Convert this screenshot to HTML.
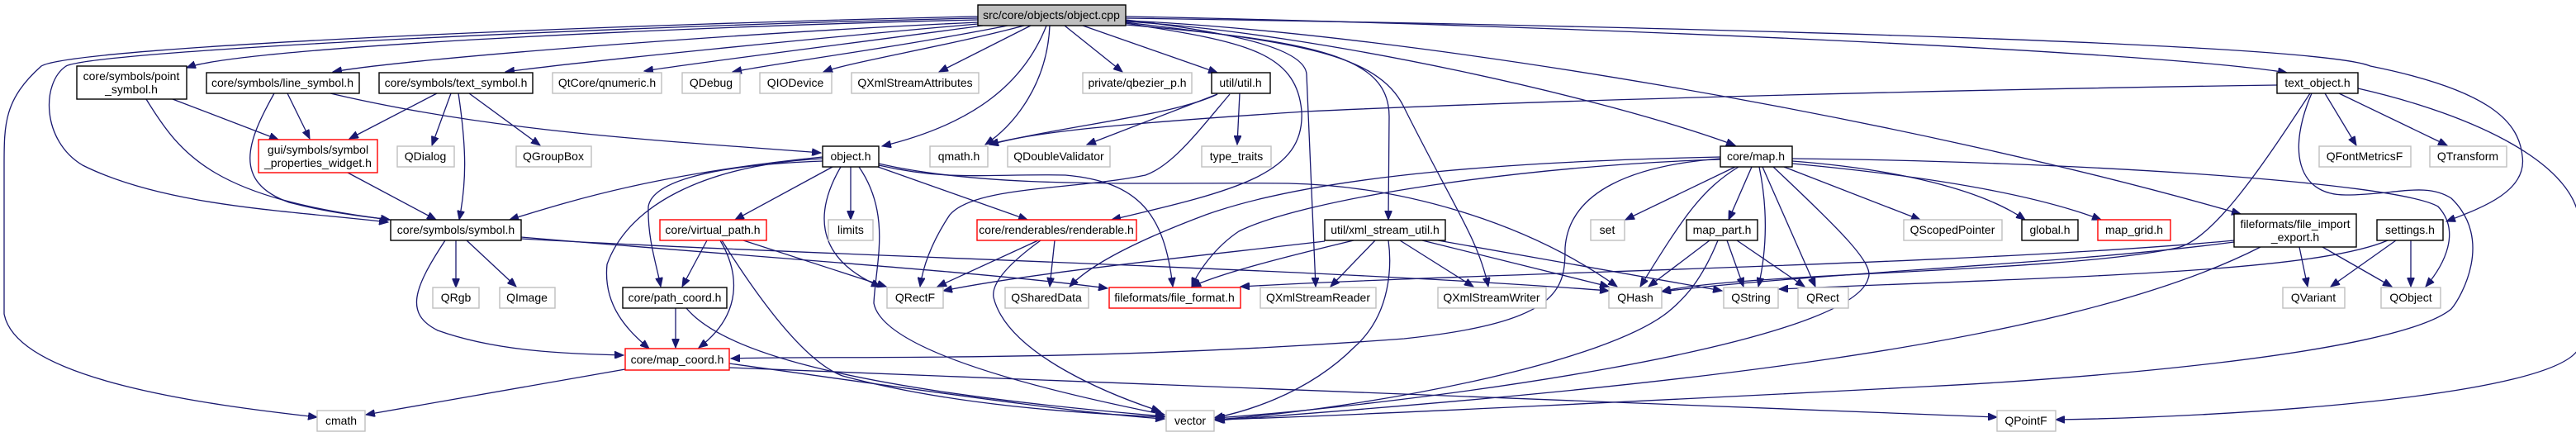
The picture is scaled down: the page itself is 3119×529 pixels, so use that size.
<!DOCTYPE html>
<html><head><meta charset="utf-8"><style>
html,body{margin:0;padding:0;background:#fff;}
svg{display:block;}
text{font-family:"Liberation Sans",Arial,sans-serif;font-size:14px;fill:#000;text-anchor:middle;}
.e{fill:none;stroke:#191970;stroke-width:1.3;marker-end:url(#a);}
.b{fill:#fff;stroke:#000;stroke-width:1.4;}
.g{fill:#fff;stroke:#bfbfbf;stroke-width:1.4;}
.r{fill:#fff;stroke:#ff0000;stroke-width:1.4;}
</style></head><body>
<svg width="3119" height="529" viewBox="0 0 3119 529" xmlns="http://www.w3.org/2000/svg">
<defs><marker id="a" markerUnits="userSpaceOnUse" markerWidth="12" markerHeight="9" refX="11" refY="4.5" orient="auto"><path d="M0,0 L11,4.5 L0,9 z" fill="#191970" stroke="#191970"/></marker></defs>

<!-- edges from object.cpp -->
<path class="e" d="M1184,24 C900,30 300,55 226,82"/>
<path class="e" d="M1184,27 C900,40 500,70 403,87"/>
<path class="e" d="M1184,29 C1000,45 700,75 612,87"/>
<path class="e" d="M1190,31 C1050,50 850,75 780,86"/>
<path class="e" d="M1220,31 C1100,55 950,75 887,87"/>
<path class="e" d="M1240,31 C1150,55 1030,75 997,87"/>
<path class="e" d="M1248,31 L1137,87"/>
<path class="e" d="M1267,31 C1240,100 1180,150 1068,177"/>
<path class="e" d="M1271,31 C1268,100 1230,150 1193,175"/>
<path class="e" d="M1289,31 L1359,87"/>
<path class="e" d="M1311,31 L1474,88"/>
<path class="e" d="M1363,28 C1500,50 1570,60 1576,135 C1580,210 1500,230 1346,266"/>
<path class="e" d="M1184,22 C800,30 120,60 80,80 C50,100 50,170 100,200 C200,250 350,255 470,269"/>
<path class="e" d="M1184,20 C800,28 90,55 50,80 C5,120 5,150 5,200 L5,380 C20,460 250,490 384,505"/>
<path class="e" d="M1363,26 C1600,40 1950,120 2101,176"/>
<path class="e" d="M1363,30 C1600,50 1682,70 1682,141 L1681,266"/>
<path class="e" d="M1363,24 C1500,40 1580,60 1582,90 L1593,347"/>
<path class="e" d="M1363,27 C1550,50 1667,60 1700,130 C1760,250 1790,290 1802,347"/>
<path class="e" d="M1363,20 C1800,28 2600,60 2769,88"/>
<path class="e" d="M1363,22 C1900,30 2800,50 2870,80 C3020,110 3050,150 3054,189 C3060,230 3010,250 2962,268"/>
<path class="e" d="M1363,25 C1700,40 2300,140 2713,259"/>

<!-- line_symbol -->
<path class="e" d="M348,113 L375,168"/>
<path class="e" d="M332,113 C300,170 280,220 350,245 C400,258 440,262 472,266"/>
<path class="e" d="M400,113 C600,160 800,170 994,185"/>
<!-- point_symbol -->
<path class="e" d="M209,120 L337,169"/>
<path class="e" d="M177,120 C220,190 260,240 472,266"/>
<!-- text_symbol -->
<path class="e" d="M529,113 L423,168"/>
<path class="e" d="M546,113 L523,176"/>
<path class="e" d="M568,113 L654,176"/>
<path class="e" d="M555,113 C565,180 565,220 556,266"/>
<!-- props widget -->
<path class="e" d="M421,209 L528,266"/>
<!-- symbol.h -->
<path class="e" d="M552,291 L552,348"/>
<path class="e" d="M565,291 L625,347"/>
<path class="e" d="M539,291 C500,350 490,380 530,400 C600,425 680,428 755,430"/>
<path class="e" d="M631,287 C900,310 1200,330 1341,349"/>
<path class="e" d="M631,289 C1000,310 1600,325 1948,352"/>

<!-- object.h -->
<path class="e" d="M996,190 C800,210 700,240 617,266"/>
<path class="e" d="M1008,202 L890,266"/>
<path class="e" d="M1030,202 L1030,266"/>
<path class="e" d="M1063,202 L1244,266"/>
<path class="e" d="M1018,202 C990,250 980,310 1066,347"/>
<path class="e" d="M1040,202 C1080,260 1060,320 1058,367 C1070,430 1300,480 1410,502"/>
<path class="e" d="M996,195 C860,200 790,220 785,250 C784,290 795,320 800,347"/>
<path class="e" d="M996,192 C850,200 760,250 735,320 C730,370 760,400 786,422"/>
<path class="e" d="M1064,200 C1150,220 1200,210 1290,212 C1380,220 1410,260 1420,347"/>
<path class="e" d="M1064,198 C1200,230 1400,220 1560,222 C1700,225 1850,270 1958,347"/>

<!-- util.h -->
<path class="e" d="M1474,114 C1420,140 1300,150 1198,175"/>
<path class="e" d="M1474,114 L1316,175"/>
<path class="e" d="M1501,113 L1498,175"/>
<path class="e" d="M1489,114 C1450,160 1420,200 1387,212 C1300,230 1180,225 1150,260 C1130,290 1118,320 1114,347"/>

<!-- text_object.h -->
<path class="e" d="M2757,103 C2400,108 1900,120 1580,135 C1350,150 1250,160 1198,175"/>
<path class="e" d="M2815,113 L2853,176"/>
<path class="e" d="M2832,113 L2963,176"/>
<path class="e" d="M2855,107 C3000,140 3120,200 3123,270 L3123,420 C3100,480 2700,505 2489,508"/>
<path class="e" d="M2797,113 C2740,200 2680,290 2636,300 C2500,330 2100,330 2012,353"/>
<path class="e" d="M2799,113 C2770,180 2780,236 2840,236 C2900,236 2937,220 2968,240 C3020,290 2980,360 2968,374 C2900,430 2500,460 2330,468 C2100,480 1600,505 1470,508"/>

<!-- map.h -->
<path class="e" d="M2101,202 L1968,266"/>
<path class="e" d="M2121,202 L2093,266"/>
<path class="e" d="M2105,202 C2060,230 2040,260 1986,347"/>
<path class="e" d="M2130,202 C2140,250 2140,300 2129,347"/>
<path class="e" d="M2134,202 L2198,347"/>
<path class="e" d="M2147,202 C2230,280 2270,320 2262,337 C2240,420 1700,490 1472,506"/>
<path class="e" d="M2160,202 L2325,266"/>
<path class="e" d="M2170,195 C2300,205 2400,230 2452,266"/>
<path class="e" d="M2170,198 C2300,210 2450,230 2544,266"/>
<path class="e" d="M2170,192 C2500,195 2900,220 2952,250 C2980,280 2960,320 2937,347"/>
<path class="e" d="M2083,192 C1980,200 1900,230 1895,300 C1895,350 1890,390 1700,410 C1300,440 1000,430 885,434"/>
<path class="e" d="M2083,190 C1850,195 1600,210 1460,260 C1380,290 1320,320 1295,347"/>
<path class="e" d="M2083,193 C1850,200 1580,240 1500,280 C1470,300 1450,330 1443,347"/>

<!-- map_part.h -->
<path class="e" d="M2070,291 L1996,347"/>
<path class="e" d="M2091,291 L2111,347"/>
<path class="e" d="M2103,291 L2185,347"/>
<path class="e" d="M2080,291 C2060,340 2040,360 2024,374 C1950,440 1650,495 1472,508"/>

<!-- xml_stream_util.h -->
<path class="e" d="M1665,291 L1611,347"/>
<path class="e" d="M1695,291 L1784,347"/>
<path class="e" d="M1722,291 L1948,347"/>
<path class="e" d="M1741,291 L2085,352"/>
<path class="e" d="M1604,292 C1450,310 1250,330 1142,352"/>
<path class="e" d="M1639,291 C1560,310 1480,330 1443,347"/>
<path class="e" d="M1681,291 C1685,320 1685,380 1640,420 C1580,480 1500,500 1470,506"/>

<!-- file_import_export.h -->
<path class="e" d="M2784,299 L2794,347"/>
<path class="e" d="M2812,299 L2896,347"/>
<path class="e" d="M2737,299 C2500,420 2000,470 1472,509"/>
<path class="e" d="M2705,291 C2400,320 1800,330 1502,347"/>
<path class="e" d="M2705,293 C2500,320 2200,330 2012,353"/>

<!-- settings.h -->
<path class="e" d="M2901,291 L2822,347"/>
<path class="e" d="M2919,291 L2919,347"/>
<path class="e" d="M2891,291 C2800,330 2500,335 2154,350"/>

<!-- map_coord.h -->
<path class="e" d="M757,447 L443,502"/>
<path class="e" d="M883,440 C1100,470 1300,500 1410,507"/>
<path class="e" d="M883,445 C1500,470 2200,495 2418,505"/>
<!-- path_coord.h -->
<path class="e" d="M818,373 L818,421"/>
<path class="e" d="M831,373 C870,420 1000,470 1410,504"/>
<!-- virtual_path.h -->
<path class="e" d="M856,291 L826,347"/>
<path class="e" d="M872,291 C895,330 900,380 846,421"/>
<path class="e" d="M900,291 L1073,347"/>
<path class="e" d="M874,291 C930,380 980,440 1020,455 C1150,490 1300,500 1410,505"/>
<!-- renderable.h -->
<path class="e" d="M1257,291 L1135,347"/>
<path class="e" d="M1277,291 L1271,347"/>
<path class="e" d="M1260,291 C1220,320 1200,343 1203,360 C1220,430 1350,480 1405,498"/>

<!-- nodes -->
<rect class="b" x="1184" y="6" width="179" height="25" style="fill:#bfbfbf"/><text x="1273" y="23">src/core/objects/object.cpp</text>
<rect class="b" x="93" y="80" width="133" height="40"/><text x="159" y="97">core/symbols/point</text><text x="159" y="113">_symbol.h</text>
<rect class="b" x="250" y="88" width="185" height="25"/><text x="342" y="105">core/symbols/line_symbol.h</text>
<rect class="b" x="459" y="88" width="186" height="25"/><text x="552" y="105">core/symbols/text_symbol.h</text>
<rect class="g" x="669" y="88" width="132" height="25"/><text x="735" y="105">QtCore/qnumeric.h</text>
<rect class="g" x="826" y="88" width="70" height="25"/><text x="861" y="105">QDebug</text>
<rect class="g" x="920" y="88" width="87" height="25"/><text x="963" y="105">QIODevice</text>
<rect class="g" x="1031" y="88" width="154" height="25"/><text x="1108" y="105">QXmlStreamAttributes</text>
<rect class="g" x="1311" y="88" width="132" height="25"/><text x="1377" y="105">private/qbezier_p.h</text>
<rect class="b" x="1467" y="88" width="71" height="25"/><text x="1502" y="105">util/util.h</text>
<rect class="b" x="2757" y="88" width="98" height="25"/><text x="2806" y="105">text_object.h</text>
<rect class="r" x="313" y="169" width="144" height="40"/><text x="385" y="186">gui/symbols/symbol</text><text x="385" y="202">_properties_widget.h</text>
<rect class="g" x="481" y="177" width="69" height="25"/><text x="515" y="194">QDialog</text>
<rect class="g" x="625" y="177" width="91" height="25"/><text x="670" y="194">QGroupBox</text>
<rect class="b" x="996" y="177" width="68" height="25"/><text x="1030" y="194">object.h</text>
<rect class="g" x="1126" y="177" width="70" height="25"/><text x="1161" y="194">qmath.h</text>
<rect class="g" x="1220" y="177" width="124" height="25"/><text x="1282" y="194">QDoubleValidator</text>
<rect class="g" x="1455" y="177" width="84" height="25"/><text x="1497" y="194">type_traits</text>
<rect class="b" x="2083" y="177" width="87" height="25"/><text x="2126" y="194">core/map.h</text>
<rect class="g" x="2808" y="177" width="111" height="25"/><text x="2863" y="194">QFontMetricsF</text>
<rect class="g" x="2942" y="177" width="93" height="25"/><text x="2988" y="194">QTransform</text>
<rect class="b" x="473" y="266" width="158" height="25"/><text x="552" y="283">core/symbols/symbol.h</text>
<rect class="r" x="799" y="266" width="129" height="25"/><text x="863" y="283">core/virtual_path.h</text>
<rect class="g" x="1003" y="266" width="54" height="25"/><text x="1030" y="283">limits</text>
<rect class="r" x="1183" y="266" width="193" height="25"/><text x="1279" y="283">core/renderables/renderable.h</text>
<rect class="b" x="1604" y="266" width="146" height="25"/><text x="1677" y="283">util/xml_stream_util.h</text>
<rect class="g" x="1926" y="266" width="41" height="25"/><text x="1946" y="283">set</text>
<rect class="b" x="2042" y="266" width="86" height="25"/><text x="2085" y="283">map_part.h</text>
<rect class="g" x="2305" y="266" width="119" height="25"/><text x="2364" y="283">QScopedPointer</text>
<rect class="b" x="2448" y="266" width="68" height="25"/><text x="2482" y="283">global.h</text>
<rect class="r" x="2540" y="266" width="88" height="25"/><text x="2584" y="283">map_grid.h</text>
<rect class="b" x="2705" y="259" width="148" height="40"/><text x="2779" y="276">fileformats/file_import</text><text x="2779" y="292">_export.h</text>
<rect class="b" x="2878" y="266" width="80" height="25"/><text x="2918" y="283">settings.h</text>
<rect class="g" x="524" y="348" width="56" height="25"/><text x="552" y="365">QRgb</text>
<rect class="g" x="605" y="348" width="67" height="25"/><text x="638" y="365">QImage</text>
<rect class="b" x="754" y="348" width="126" height="25"/><text x="817" y="365">core/path_coord.h</text>
<rect class="g" x="1074" y="348" width="68" height="25"/><text x="1108" y="365">QRectF</text>
<rect class="g" x="1217" y="348" width="101" height="25"/><text x="1267" y="365">QSharedData</text>
<rect class="r" x="1343" y="348" width="159" height="25"/><text x="1422" y="365">fileformats/file_format.h</text>
<rect class="g" x="1526" y="348" width="140" height="25"/><text x="1596" y="365">QXmlStreamReader</text>
<rect class="g" x="1741" y="348" width="131" height="25"/><text x="1806" y="365">QXmlStreamWriter</text>
<rect class="g" x="1948" y="348" width="64" height="25"/><text x="1980" y="365">QHash</text>
<rect class="g" x="2087" y="348" width="66" height="25"/><text x="2120" y="365">QString</text>
<rect class="g" x="2177" y="348" width="61" height="25"/><text x="2207" y="365">QRect</text>
<rect class="g" x="2764" y="348" width="75" height="25"/><text x="2801" y="365">QVariant</text>
<rect class="g" x="2883" y="348" width="72" height="25"/><text x="2919" y="365">QObject</text>
<rect class="r" x="757" y="422" width="126" height="26"/><text x="820" y="440">core/map_coord.h</text>
<rect class="g" x="384" y="497" width="58" height="25"/><text x="413" y="514">cmath</text>
<rect class="g" x="1412" y="497" width="58" height="25"/><text x="1441" y="514">vector</text>
<rect class="g" x="2418" y="497" width="71" height="25"/><text x="2453" y="514">QPointF</text>
</svg>
</body></html>
